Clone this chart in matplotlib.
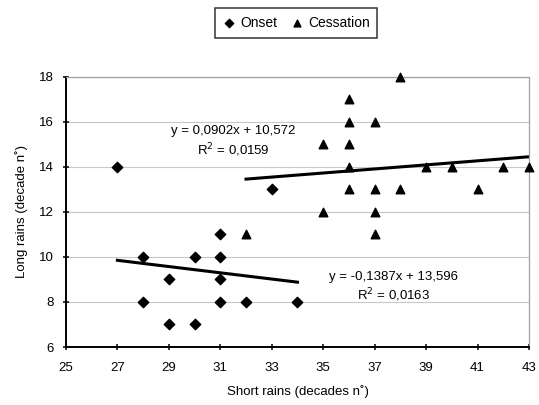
import matplotlib.pyplot as plt
import numpy as np

plt.rcParams['font.family'] = ['Liberation Sans', 'DejaVu Sans']

# Onset (diamonds)
onset_x = [27, 28, 28, 29, 29, 30, 30, 31, 31, 31, 31, 32, 33, 34]
onset_y = [14, 10, 8, 9, 7, 10, 7, 11, 10, 9, 8, 8, 13, 8]

# Cessation (triangles)
cess_x = [32, 35, 35, 36, 36, 36, 36, 36, 37, 37, 37, 37, 38, 38, 39, 40, 41, 42, 43]
cess_y = [11, 15, 12, 17, 16, 15, 14, 13, 16, 13, 12, 11, 18, 13, 14, 14, 13, 14, 14]

# trend lines as printed on the chart
onset_fit = (-0.1387, 13.596)
cess_fit = (0.0902, 10.572)

x_ticks = list(range(25, 44, 2))
y_ticks = list(range(6, 19, 2))

fig = plt.figure(figsize=(5.39, 4.05), dpi=100, facecolor='white')
ax = fig.add_axes([0.1224, 0.1432, 0.859, 0.667])

ax.set_xlim(25, 43)
ax.set_ylim(6, 18)
ax.set_xticks(x_ticks)
ax.set_yticks(y_ticks)
ax.yaxis.grid(True, color='#c8c8c8', lw=0.8)
ax.set_axisbelow(True)

for s in ['top', 'right']:
    ax.spines[s].set_color('#a0a0a0')
    ax.spines[s].set_linewidth(0.9)
for s in ['left', 'bottom']:
    ax.spines[s].set_linewidth(1.4)
ax.tick_params(direction='inout', length=5, width=1.1, labelsize=9.5, pad=6)
ax.tick_params(axis='x', pad=8)

ax.scatter(onset_x, onset_y, marker='D', s=28, color='black', label='Onset', zorder=3, clip_on=False)
ax.scatter(cess_x, cess_y, marker='^', s=38, color='black', label='Cessation', zorder=3, clip_on=False)

xo = np.array([min(onset_x), max(onset_x)])
ax.plot(xo, onset_fit[0] * xo + onset_fit[1], color='black', lw=2.2)
xc = np.array([min(cess_x), max(cess_x)])
ax.plot(xc, cess_fit[0] * xc + cess_fit[1], color='black', lw=2.2)

ax.text(31.5, 15.1, "y = 0,0902x + 10,572\nR$^2$ = 0,0159", ha='center', va='center',
        fontsize=9.5, linespacing=1.3)
ax.text(37.75, 8.65, "y = -0,1387x + 13,596\nR$^2$ = 0,0163", ha='center', va='center',
        fontsize=9.5, linespacing=1.3)

ax.set_xlabel("Short rains (decades n˚)", fontsize=9.5, labelpad=8)
ax.set_ylabel("Long rains (decade n˚)", fontsize=9.5, labelpad=8)

leg = fig.legend(loc='center', bbox_to_anchor=(0.549, 0.943), ncol=2, fontsize=10,
                 frameon=True, fancybox=False, edgecolor='black', handletextpad=0.3,
                 columnspacing=0.9, borderpad=0.55, handlelength=1.0, markerscale=0.8)
leg.get_frame().set_linewidth(1.1)

plt.savefig('out.png', dpi=100)
